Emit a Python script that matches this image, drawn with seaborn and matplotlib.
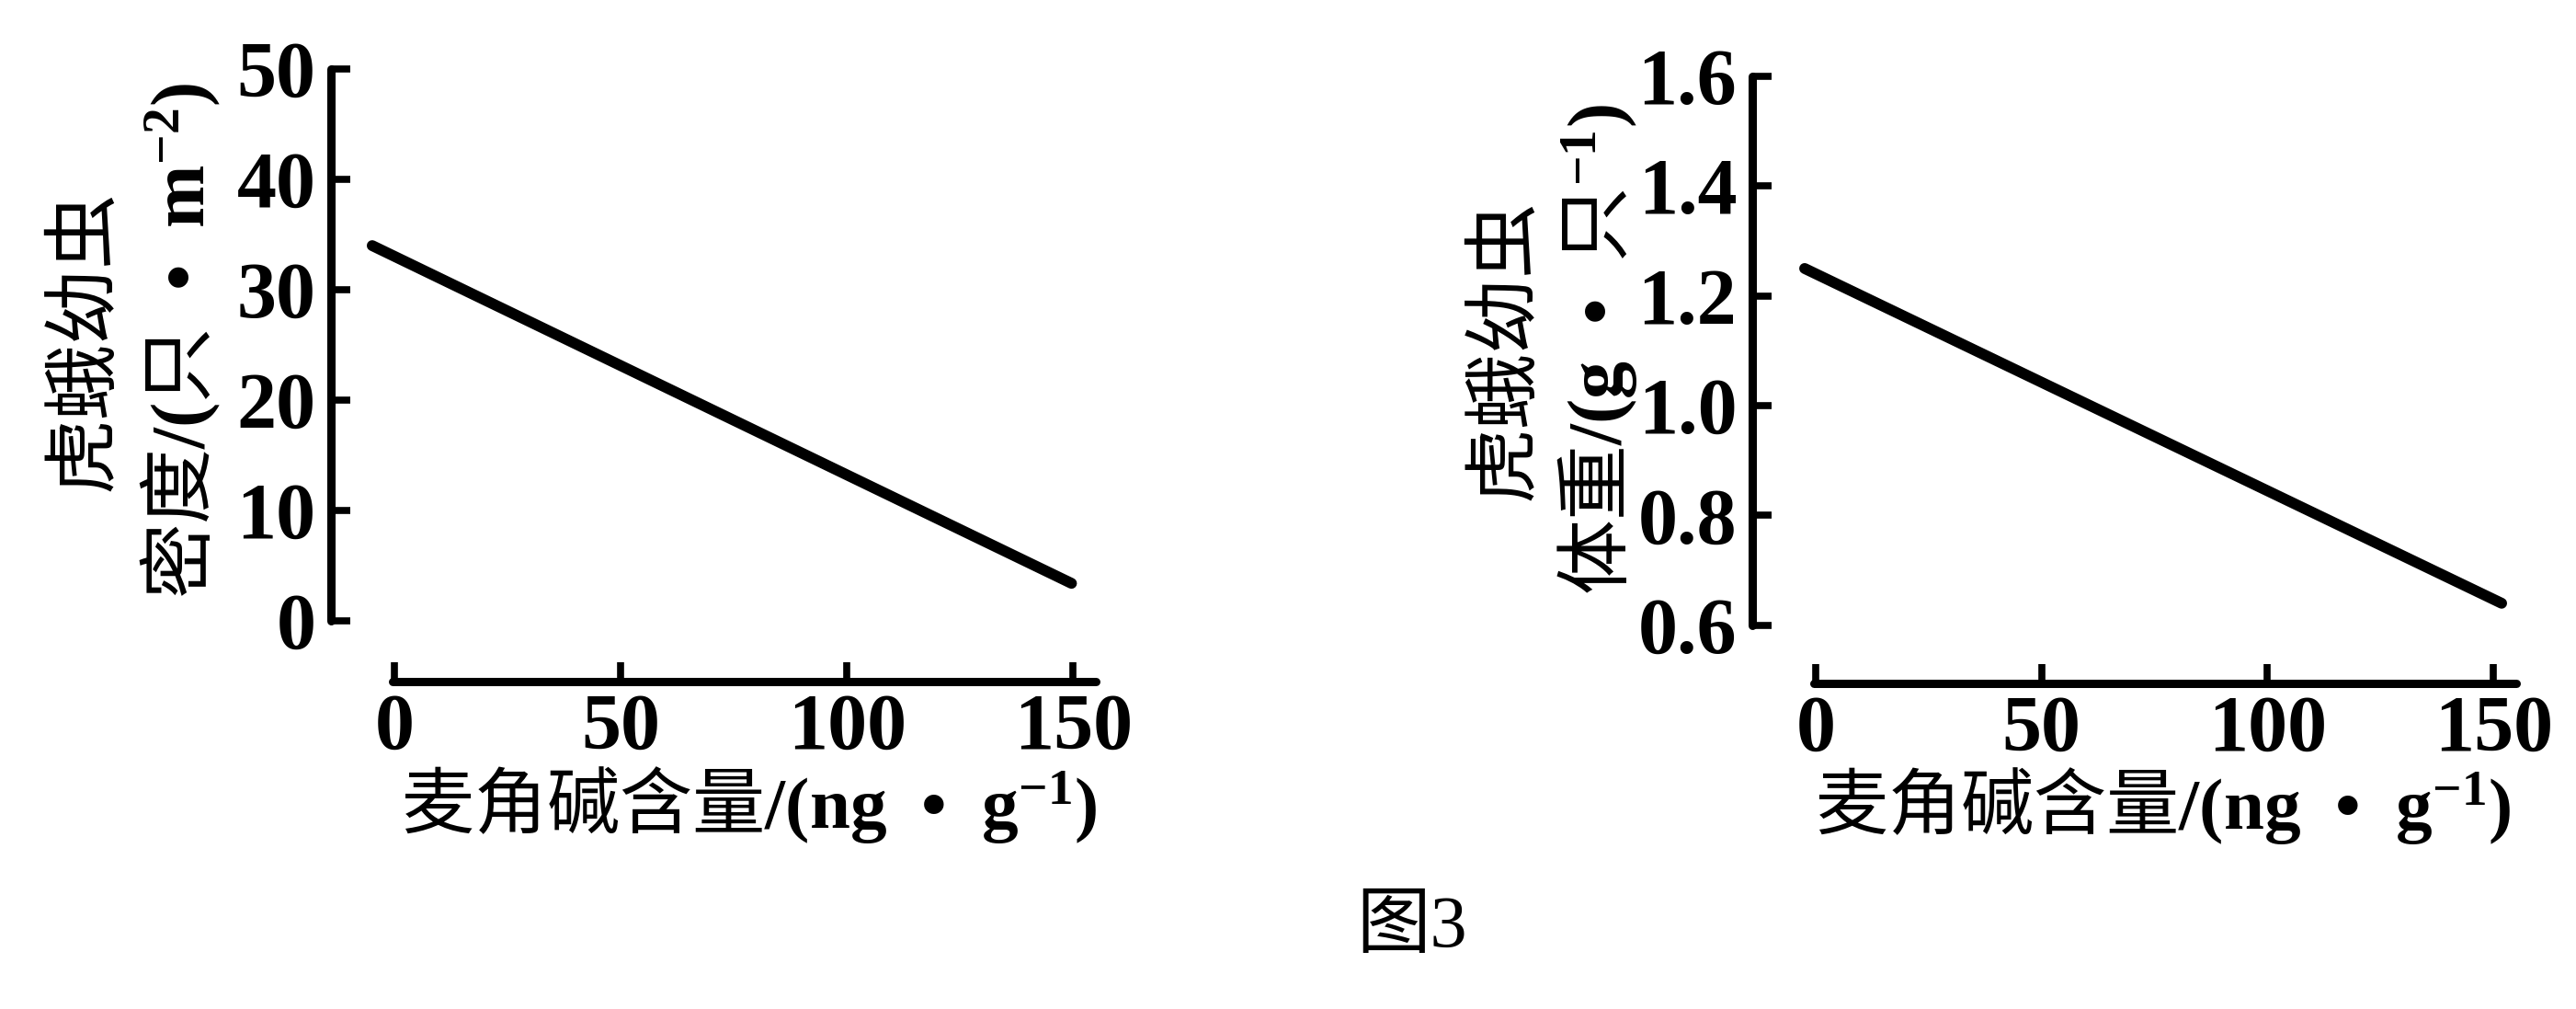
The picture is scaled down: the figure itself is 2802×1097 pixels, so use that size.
import matplotlib
matplotlib.use("Agg")
import matplotlib.pyplot as plt
import seaborn as sns
import pandas as pd

# ---------------- data ----------------
ergot_density_x = [-4.9, 149.6]      # 麦角碱含量 (ng/g)
larva_density = [34.0, 3.4]          # 虎蛾幼虫密度 (只/m2)
ergot_weight_x = [-2.4, 151.8]
larva_weight = [1.25, 0.64]          # 虎蛾幼虫体重 (g/只)

x_ticks = [0, 50, 100, 150]
x_tick_labels = ["0", "50", "100", "150"]
density_ticks = [0, 10, 20, 30, 40, 50]
density_tick_labels = ["0", "10", "20", "30", "40", "50"]
weight_ticks = [0.6, 0.8, 1.0, 1.2, 1.4, 1.6]
weight_tick_labels = ["0.6", "0.8", "1.0", "1.2", "1.4", "1.6"]

xlabel_text = "麦角碱含量" + r"$\mathbf{/(ng\ \ •\ \ g^{-1})}$"
ylabel_left = "虎蛾幼虫\n密度" + r"$\mathbf{/(}$" + "只" + r"$\mathbf{\ \ •\ \ m^{-2})}$"
ylabel_right = "虎蛾幼虫\n体重" + r"$\mathbf{/(g\ \ •\ \ }$" + "只" + r"$\mathbf{^{-1})}$"
caption = "图3"

# ---------------- style ----------------
sns.set_theme(style="ticks")
plt.rcParams["font.family"] = ["Noto Sans CJK SC", "DejaVu Sans"]
plt.rcParams["mathtext.fontset"] = "custom"
plt.rcParams["mathtext.rm"] = "Liberation Serif"
plt.rcParams["mathtext.bf"] = "Liberation Serif:bold"
plt.rcParams["mathtext.it"] = "Liberation Serif:italic"
plt.rcParams["axes.unicode_minus"] = True

fig = plt.figure(figsize=(28.02, 10.97), dpi=100)
fig.patch.set_facecolor("white")

ax1 = fig.add_axes([0.1285, 0.3245, 0.2973, 0.6071])
ax2 = fig.add_axes([0.6802, 0.3227, 0.2969, 0.6016])

df1 = pd.DataFrame({"x": ergot_density_x, "y": larva_density})
df2 = pd.DataFrame({"x": ergot_weight_x, "y": larva_weight})

sns.lineplot(data=df1, x="x", y="y", ax=ax1, color="black", linewidth=8.5,
             solid_capstyle="round")
sns.lineplot(data=df2, x="x", y="y", ax=ax2, color="black", linewidth=8.5,
             solid_capstyle="round")

tick_font = dict(fontfamily="Liberation Serif", fontweight="bold", fontsize=62)

configs = [
    (ax1, (-5.5, 50), density_ticks, density_tick_labels, (0, 50), ylabel_left,
     (-0.258, 0.557), (0.546, -0.201), 59, 1.25),
    (ax2, (0.494, 1.6), weight_ticks, weight_tick_labels, (0.6, 1.6), ylabel_right,
     (-0.262, 0.55), (0.537, -0.201), 59, 1.2),
]

for ax, ylim, yt, ytl, ybounds, ylab, ylc, xlc, yfs, lsp in configs:
    ax.set_facecolor("white")
    ax.set_xlim(-14, 155.2)
    ax.set_ylim(*ylim)
    ax.set_xticks(x_ticks, x_tick_labels, **tick_font)
    ax.set_yticks(yt, ytl, **tick_font)
    sns.despine(ax=ax)
    ax.spines["left"].set_bounds(*ybounds)
    ax.spines["bottom"].set_bounds(-0.4, 155)
    for s in ("left", "bottom"):
        ax.spines[s].set_linewidth(6.5)
        ax.spines[s].set_color("black")
        ax.spines[s].set_capstyle("round")
    ax.tick_params(axis="both", direction="in", length=15, width=5.5, colors="black")
    ax.tick_params(axis="y", pad=12)
    ax.tick_params(axis="x", pad=9)
    ax.set_xlabel(xlabel_text, fontsize=57, va="center", color="black")
    ax.xaxis.set_label_coords(*xlc)
    ax.set_ylabel(ylab, fontsize=yfs, va="center", ha="center",
                  multialignment="center", linespacing=lsp, color="black")
    ax.yaxis.set_label_coords(*ylc)
    ax.grid(False)

fig.text(0.548, 0.079, caption, fontsize=58, ha="center", va="center",
         family=["Liberation Serif", "Noto Sans CJK SC"], color="black")

fig.savefig("out.png", dpi=100, facecolor="white")
